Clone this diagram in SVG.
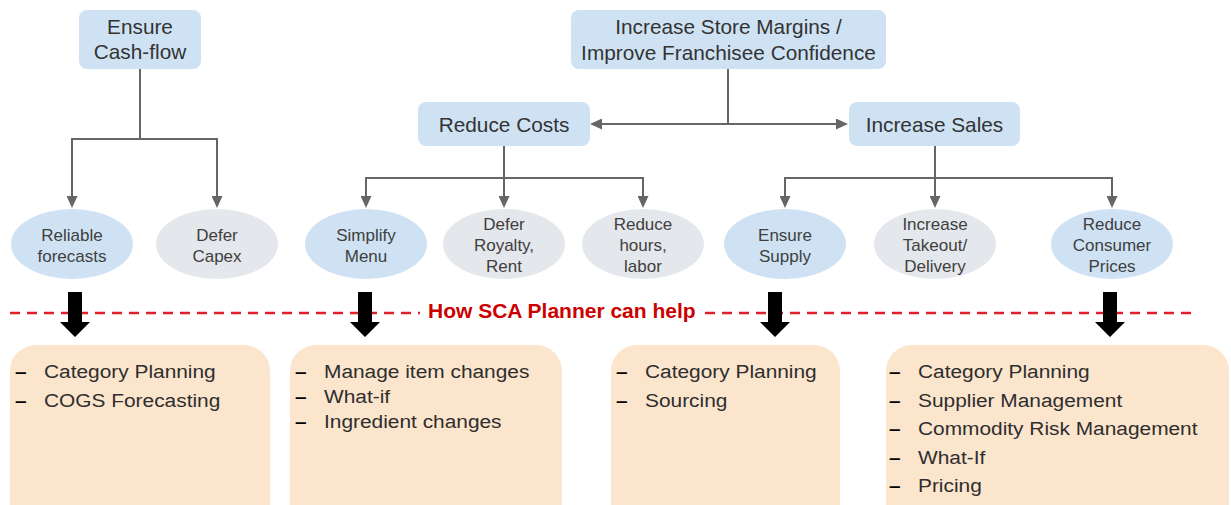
<svg xmlns="http://www.w3.org/2000/svg" width="1231" height="505" viewBox="0 0 1231 505">
  <defs>
    <style>
      .goal { fill: #cfe2f3; }
      .opt-blue { fill: #cfe2f3; }
      .opt-grey { fill: #e4e7eb; }
      .help { fill: #fce5cd; }
      .t-box { font-family: "Liberation Sans", Arial, sans-serif; font-size: 20.8px; fill: #333333; text-anchor: middle; }
      .t-ell { font-family: "Liberation Sans", Arial, sans-serif; font-size: 17px; fill: #404040; text-anchor: middle; }
      .t-item { font-family: "Liberation Sans", Arial, sans-serif; font-size: 18px; fill: #2e2e2e; }
      .t-dash { font-family: "Liberation Sans", Arial, sans-serif; font-size: 18px; font-weight: bold; fill: #000000; }
      .t-banner { font-family: "Liberation Sans", Arial, sans-serif; font-size: 21px; font-weight: bold; fill: #cc0000; }
      .conn { fill: none; stroke: #666666; stroke-width: 2; marker-end: url(#head); }
      .conn-plain { fill: none; stroke: #666666; stroke-width: 2; }
      .divider { stroke: #e0202a; stroke-width: 2.5; stroke-dasharray: 10 7; }
      .block { fill: #000000; }
    </style>
    <marker id="head" markerUnits="userSpaceOnUse" markerWidth="12" markerHeight="11" refX="8" refY="5.5" orient="auto">
      <path d="M0,0 L12,5.5 L0,11 Z" fill="#666666"/>
    </marker>
  </defs>

  <rect width="1231" height="505" fill="#ffffff"/>

  <!-- connectors between goals and options -->
  <g id="connectors">
    <path class="conn-plain" d="M140 69 V139"/>
    <path class="conn" d="M140 139 H72 V204"/>
    <path class="conn" d="M140 139 H217 V204"/>

    <path class="conn-plain" d="M728 69 V124"/>
    <path class="conn" d="M728 124 H594"/>
    <path class="conn" d="M728 124 H844"/>

    <path class="conn" d="M504 146 V204"/>
    <path class="conn" d="M504 178 H366 V204"/>
    <path class="conn" d="M504 178 H643 V204"/>

    <path class="conn" d="M935 146 V204"/>
    <path class="conn" d="M935 178 H785 V204"/>
    <path class="conn" d="M935 178 H1112 V204"/>
  </g>

  <!-- top-level goals -->
  <g id="ensure-cashflow">
    <rect class="goal" x="79" y="10" width="122" height="59" rx="8"/>
    <text class="t-box" x="140" y="34">Ensure</text>
    <text class="t-box" x="140" y="59">Cash-flow</text>
  </g>
  <g id="increase-margins">
    <rect class="goal" x="571" y="10" width="315" height="59" rx="8"/>
    <text class="t-box" x="728.5" y="34">Increase Store Margins /</text>
    <text class="t-box" x="728.5" y="59.5">Improve Franchisee Confidence</text>
  </g>
  <g id="reduce-costs">
    <rect class="goal" x="418" y="102" width="172" height="44" rx="8"/>
    <text class="t-box" x="504" y="131.5">Reduce Costs</text>
  </g>
  <g id="increase-sales">
    <rect class="goal" x="849" y="102" width="171" height="44" rx="8"/>
    <text class="t-box" x="934.5" y="131.5">Increase Sales</text>
  </g>

  <!-- options -->
  <g id="reliable-forecasts">
    <ellipse class="opt-blue" cx="72" cy="244" rx="61" ry="35"/>
    <text class="t-ell" x="72" y="240.5">Reliable</text>
    <text class="t-ell" x="72" y="261.5">forecasts</text>
  </g>
  <g id="defer-capex">
    <ellipse class="opt-grey" cx="217" cy="244" rx="61" ry="35"/>
    <text class="t-ell" x="217" y="240.5">Defer</text>
    <text class="t-ell" x="217" y="261.5">Capex</text>
  </g>
  <g id="simplify-menu">
    <ellipse class="opt-blue" cx="366" cy="244" rx="61" ry="35"/>
    <text class="t-ell" x="366" y="240.5">Simplify</text>
    <text class="t-ell" x="366" y="261.5">Menu</text>
  </g>
  <g id="defer-royalty">
    <ellipse class="opt-grey" cx="504" cy="244" rx="61" ry="35"/>
    <text class="t-ell" x="504" y="230">Defer</text>
    <text class="t-ell" x="504" y="251">Royalty,</text>
    <text class="t-ell" x="504" y="272">Rent</text>
  </g>
  <g id="reduce-hours">
    <ellipse class="opt-grey" cx="643" cy="244" rx="61" ry="35"/>
    <text class="t-ell" x="643" y="230">Reduce</text>
    <text class="t-ell" x="643" y="251">hours,</text>
    <text class="t-ell" x="643" y="272">labor</text>
  </g>
  <g id="ensure-supply">
    <ellipse class="opt-blue" cx="785" cy="244" rx="61" ry="35"/>
    <text class="t-ell" x="785" y="240.5">Ensure</text>
    <text class="t-ell" x="785" y="261.5">Supply</text>
  </g>
  <g id="increase-takeout">
    <ellipse class="opt-grey" cx="935" cy="244" rx="61" ry="35"/>
    <text class="t-ell" x="935" y="230">Increase</text>
    <text class="t-ell" x="935" y="251">Takeout/</text>
    <text class="t-ell" x="935" y="272">Delivery</text>
  </g>
  <g id="reduce-prices">
    <ellipse class="opt-blue" cx="1112" cy="244" rx="61" ry="35"/>
    <text class="t-ell" x="1112" y="230">Reduce</text>
    <text class="t-ell" x="1112" y="251">Consumer</text>
    <text class="t-ell" x="1112" y="272">Prices</text>
  </g>

  <!-- divider with banner -->
  <g id="divider">
    <line class="divider" x1="10" y1="313" x2="420" y2="313"/>
    <line class="divider" x1="705" y1="313" x2="1197" y2="313"/>
    <text class="t-banner" x="428" y="318">How SCA Planner can help</text>
  </g>

  <!-- block arrows down to the capability boxes -->
  <g id="block-arrows">
    <polygon class="block" points="68,292 82,292 82,322 90,322 75,337 60,322 68,322"/>
    <polygon class="block" points="358,292 372,292 372,322 380,322 365,337 350,322 358,322"/>
    <polygon class="block" points="768,292 782,292 782,322 790,322 775,337 760,322 768,322"/>
    <polygon class="block" points="1103,292 1117,292 1117,322 1125,322 1110,337 1095,322 1103,322"/>
  </g>

  <!-- capability boxes -->
  <g id="help-cashflow">
    <rect class="help" x="10" y="345" width="260" height="200" rx="26"/>
    <text class="t-dash" transform="translate(15 378) scale(1.16 1)">–</text>
    <text class="t-item" transform="translate(44 378) scale(1.16 1)">Category Planning</text>
    <text class="t-dash" transform="translate(15 407) scale(1.16 1)">–</text>
    <text class="t-item" transform="translate(44 407) scale(1.16 1)">COGS Forecasting</text>
  </g>
  <g id="help-costs">
    <rect class="help" x="290" y="345" width="272" height="200" rx="26"/>
    <text class="t-dash" transform="translate(295 378) scale(1.16 1)">–</text>
    <text class="t-item" transform="translate(324 378) scale(1.16 1)">Manage item changes</text>
    <text class="t-dash" transform="translate(295 403) scale(1.16 1)">–</text>
    <text class="t-item" transform="translate(324 403) scale(1.16 1)">What-if</text>
    <text class="t-dash" transform="translate(295 428) scale(1.16 1)">–</text>
    <text class="t-item" transform="translate(324 428) scale(1.16 1)">Ingredient changes</text>
  </g>
  <g id="help-supply">
    <rect class="help" x="611" y="345" width="229" height="200" rx="26"/>
    <text class="t-dash" transform="translate(616 378) scale(1.16 1)">–</text>
    <text class="t-item" transform="translate(645 378) scale(1.16 1)">Category Planning</text>
    <text class="t-dash" transform="translate(616 407) scale(1.16 1)">–</text>
    <text class="t-item" transform="translate(645 407) scale(1.16 1)">Sourcing</text>
  </g>
  <g id="help-prices">
    <rect class="help" x="886" y="345" width="343" height="200" rx="26"/>
    <text class="t-dash" transform="translate(889 378) scale(1.16 1)">–</text>
    <text class="t-item" transform="translate(918 378) scale(1.16 1)">Category Planning</text>
    <text class="t-dash" transform="translate(889 406.5) scale(1.16 1)">–</text>
    <text class="t-item" transform="translate(918 406.5) scale(1.16 1)">Supplier Management</text>
    <text class="t-dash" transform="translate(889 435) scale(1.16 1)">–</text>
    <text class="t-item" transform="translate(918 435) scale(1.16 1)">Commodity Risk Management</text>
    <text class="t-dash" transform="translate(889 463.5) scale(1.16 1)">–</text>
    <text class="t-item" transform="translate(918 463.5) scale(1.16 1)">What-If</text>
    <text class="t-dash" transform="translate(889 492) scale(1.16 1)">–</text>
    <text class="t-item" transform="translate(918 492) scale(1.16 1)">Pricing</text>
  </g>
</svg>
